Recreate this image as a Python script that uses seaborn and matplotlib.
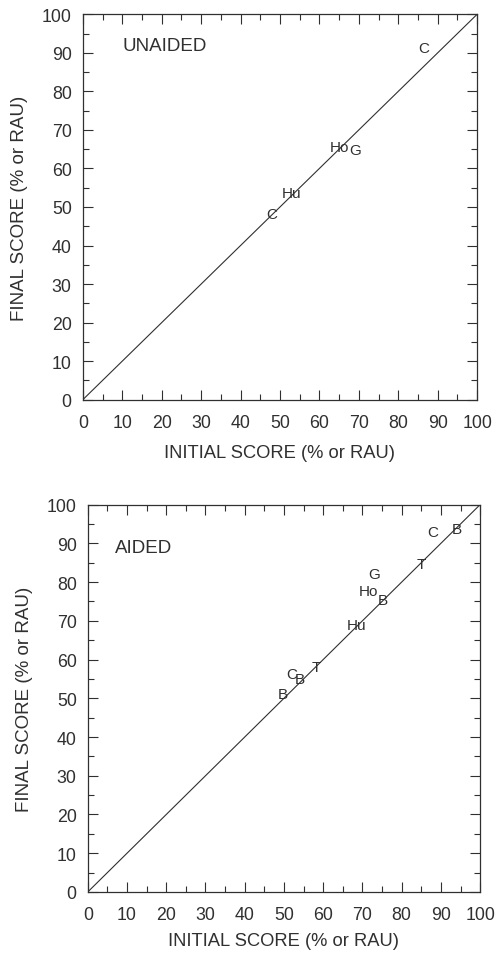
import matplotlib
matplotlib.use('Agg')
import matplotlib.pyplot as plt
import seaborn as sns
import pandas as pd
from matplotlib.ticker import MultipleLocator

sns.set_theme(style='ticks')
plt.rcParams['font.family'] = ['Liberation Sans', 'DejaVu Sans']

# Unaided data (initial vs final score, letter = group)
unaided_labels = ['C', 'Hu', 'Ho', 'G', 'C']
unaided_initial = [48, 53, 65, 69, 86.5]
unaided_final = [48.3, 53.5, 65.5, 64.7, 91.2]

# Aided data
aided_labels = ['B', 'C', 'B', 'T', 'Hu', 'B', 'Ho', 'G', 'T', 'C', 'B']
aided_initial = [49.6, 51.9, 54, 58.3, 68.5, 75.2, 71.6, 73.1, 84.9, 88, 94.1]
aided_final = [51, 56.2, 55, 58, 68.9, 75.4, 77.7, 82.1, 84.7, 93, 93.8]

# identity line
diag = pd.DataFrame({'x': [0, 100], 'y': [0, 100]})

ink = '#303030'

fig = plt.figure(figsize=(4.96, 9.54), dpi=100)
ax1 = fig.add_axes([0.167, 0.580, 0.795, 0.404])
ax2 = fig.add_axes([0.177, 0.064, 0.791, 0.406])

panels = [
    (ax1, 'UNAIDED', unaided_labels, unaided_initial, unaided_final, (10, 92), 10),
    (ax2, 'AIDED', aided_labels, aided_initial, aided_final, (7, 89), 6.5),
]

for ax, title, labels, xs, ys, tpos, xpad in panels:
    sns.lineplot(data=diag, x='x', y='y', ax=ax, color=ink, linewidth=0.8)
    for lab, x, y in zip(labels, xs, ys):
        ax.text(x, y, lab, ha='center', va='center', fontsize=11, color=ink)
    ax.text(tpos[0], tpos[1], title, ha='left', va='center', fontsize=13.5, color=ink)
    ax.set_xlim(0, 100)
    ax.set_ylim(0, 100)
    ax.xaxis.set_major_locator(MultipleLocator(10))
    ax.yaxis.set_major_locator(MultipleLocator(10))
    ax.xaxis.set_minor_locator(MultipleLocator(5))
    ax.yaxis.set_minor_locator(MultipleLocator(5))
    ax.tick_params(which='both', direction='in', top=True, right=True,
                   colors=ink, labelcolor=ink, labelsize=12.8, width=0.8)
    ax.tick_params(which='major', length=7)
    ax.tick_params(axis='x', which='major', pad=10)
    ax.tick_params(axis='y', which='major', pad=8)
    ax.tick_params(which='minor', length=4)
    ax.set_xlabel('INITIAL SCORE (% or RAU)', fontsize=13.2, color=ink, labelpad=xpad)
    ax.set_ylabel('FINAL SCORE (% or RAU)', fontsize=13.5, color=ink, labelpad=10)
    for sp in ax.spines.values():
        sp.set_color(ink)
        sp.set_linewidth(0.9)

fig.savefig('out.png', dpi=100, facecolor='white')
